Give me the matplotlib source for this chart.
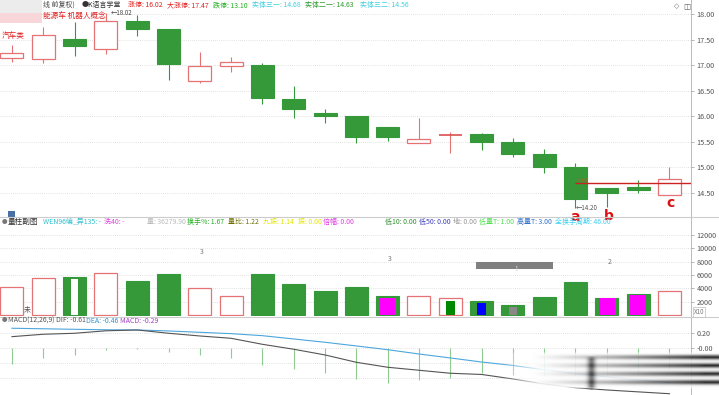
import numpy as np
import matplotlib
matplotlib.use('Agg')
import matplotlib.pyplot as plt
from matplotlib.patches import Rectangle

plt.rcParams['font.family'] = ['Noto Sans CJK SC', 'DejaVu Sans']

# ---- data ----
opens  = [17.13, 17.12, 17.51, 17.32, 17.87, 17.71, 16.68, 16.99, 17.00, 16.34, 16.06,
          16.00, 15.79, 15.47, 15.64, 15.66, 15.49, 15.26, 15.00, 14.59, 14.62, 14.45]
closes = [17.23, 17.58, 17.37, 17.87, 17.71, 17.02, 16.98, 17.06, 16.36, 16.14, 16.00,
          15.59, 15.59, 15.56, 15.64, 15.49, 15.26, 15.00, 14.38, 14.50, 14.55, 14.78]
highs  = [17.39, 17.75, 17.85, 18.02, 17.99, 17.71, 17.25, 17.15, 17.05, 16.59, 16.15,
          16.00, 15.79, 15.97, 15.70, 15.68, 15.57, 15.36, 15.08, 14.59, 14.76, 15.01]
lows   = [17.06, 17.04, 17.18, 17.21, 17.56, 16.71, 16.65, 16.86, 16.23, 15.97, 15.86,
          15.47, 15.51, 15.47, 15.28, 15.34, 15.21, 14.89, 14.20, 14.22, 14.49, 14.45]

volumes = [4150, 5500, 5750, 6250, 5100, 6150, 4000, 2900, 6100, 4650, 3550,
           4250, 2850, 2900, 2500, 2100, 1500, 2650, 5000, 2600, 3150, 3600]
# coloured marks drawn inside some volume bars
inner_vol  = [0, 0, 5400, 0, 0, 0, 0, 0, 0, 0, 0,
              0, 2600, 0, 2150, 1750, 1250, 0, 0, 2500, 3000, 0]
inner_kind = ['', '', 'white', '', '', '', '', '', '', '', '',
              '', 'magenta', '', 'green', 'blue', 'gray', '', '', 'magenta', 'magenta', '']

dif  = [0.151, 0.183, 0.196, 0.229, 0.240, 0.196, 0.160, 0.129, 0.049, -0.017, -0.093,
        -0.191, -0.257, -0.297, -0.337, -0.353, -0.413, -0.480, -0.530, -0.560, -0.585, -0.610]
dea  = [0.263, 0.256, 0.249, 0.243, 0.240, 0.227, 0.209, 0.191, 0.164, 0.120, 0.076,
        0.027, -0.023, -0.080, -0.133, -0.187, -0.233, -0.290, -0.340, -0.385, -0.425, -0.460]
hist = [-0.22, -0.14, -0.10, -0.03, -0.01, -0.06, -0.10, -0.13, -0.23, -0.28, -0.34,
        -0.42, -0.47, -0.43, -0.40, -0.33, -0.36, -0.38, -0.38, -0.35, -0.32, -0.29]

price_ticks = [14.5, 15.0, 15.5, 16.0, 16.5, 17.0, 17.5, 18.0]
vol_ticks = [2000, 4000, 6000, 8000, 10000, 12000]
macd_ticks = [0.20, 0.0]
macd_tick_labels = ['0.20', '-0.00']

RED = '#e57373'
GREEN = '#35993a'
GRID = '#d8d8d8'
inner_style = {'white': ('white', 0.24), 'magenta': ('#ff00ff', 0.50), 'green': ('#008800', 0.29),
               'blue': ('#0000ff', 0.27), 'gray': ('#888888', 0.26)}

W, H = 719, 395
fig = plt.figure(figsize=(W / 100, H / 100), dpi=100)


def px_axes(x0, y0, x1, y1):
    return fig.add_axes([x0 / W, 1 - y1 / H, (x1 - x0) / W, (y1 - y0) / H])


def ftext(x, y, s, color, size=5, **kw):
    fig.text(x / W, 1 - y / H, s, color=color, fontsize=size, va='center', ha='left', **kw)


def style_axes(ax, ticks, labels, ylim):
    ax.set_xlim(-0.383, 21.69)
    ax.set_ylim(*ylim)
    ax.set_xticks([])
    ax.yaxis.tick_right()
    ax.set_yticks(ticks)
    ax.set_yticklabels(labels)
    ax.tick_params(axis='y', length=2, width=0.5, color='#999999', labelsize=5.2,
                   labelcolor='#555555', pad=2)
    for s in ['top', 'left', 'bottom']:
        ax.spines[s].set_visible(False)
    ax.spines['right'].set_color('#bbbbbb')
    ax.spines['right'].set_linewidth(0.7)
    ax.patch.set_alpha(0)


x = np.arange(len(opens))
bw = 0.735

# ---- price panel ----
ax_p = px_axes(0, 0, 691, 216)
style_axes(ax_p, price_ticks, [f'{v:.2f}' for v in price_ticks], (14.047, 18.274))
for v in price_ticks:
    ax_p.axhline(v, color=GRID, lw=0.6, ls=(0, (1, 1.5)), zorder=0)

for i in x:
    o, c, h, l = opens[i], closes[i], highs[i], lows[i]
    top, bot = max(o, c), min(o, c)
    if c >= o:
        ax_p.vlines(i, top, h, color=RED, lw=0.8)
        ax_p.vlines(i, l, bot, color=RED, lw=0.8)
        if top - bot < 0.005:
            ax_p.hlines(top, i - bw / 2, i + bw / 2, color='#d84040', lw=1.1)
        else:
            ax_p.add_patch(Rectangle((i - bw / 2, bot), bw, top - bot, facecolor='white',
                                     edgecolor=RED, lw=0.9, zorder=3))
    else:
        ax_p.vlines(i, l, h, color=GREEN, lw=0.8)
        ax_p.add_patch(Rectangle((i - bw / 2, bot), bw, top - bot, facecolor=GREEN,
                                 edgecolor=GREEN, lw=0.8, zorder=3))

ax_p.text(3.15, 18.02, '←18.02', color='#444444', fontsize=4.5, va='center')
ax_p.text(18.02, 14.21, '←14.20', color='#555555', fontsize=4.5, va='center')
ax_p.hlines(14.70, 18, 21.69, color='#cc2222', lw=1.0, zorder=4)
ax_p.text(18.0, 14.745, '14.69', color='#d05020', fontsize=3.6, va='center')
ax_p.text(18.0, 13.955, 'a', color='#dd1111', fontsize=10, fontweight='bold',
          family='DejaVu Sans', ha='center', va='baseline')
ax_p.text(19.07, 13.975, 'b', color='#dd1111', fontsize=10, fontweight='bold',
          family='DejaVu Sans', ha='center', va='baseline')
ax_p.text(21.05, 14.223, 'c', color='#dd1111', fontsize=10, fontweight='bold',
          family='DejaVu Sans', ha='center', va='baseline')

# ---- volume panel ----
ax_v = px_axes(0, 217, 691, 316)
style_axes(ax_v, vol_ticks, [str(v) for v in vol_ticks], (-150, 14700))
for v in vol_ticks:
    ax_v.axhline(v, color=GRID, lw=0.6, ls=(0, (1, 1.5)), zorder=0)
for i in x:
    if closes[i] >= opens[i]:
        ax_v.bar(i, volumes[i], width=bw, facecolor='white', edgecolor=RED, lw=0.9)
    else:
        ax_v.bar(i, volumes[i], width=bw, facecolor=GREEN, edgecolor=GREEN, lw=0.8)
    if inner_kind[i]:
        col, wd = inner_style[inner_kind[i]]
        ax_v.bar(i, inner_vol[i], width=wd, color=col, lw=0, zorder=3)

ax_v.text(6.07, 9450, '3', color='#777777', fontsize=5, ha='center', va='center')
ax_v.text(12.08, 8400, '3', color='#777777', fontsize=5, ha='center', va='center')
ax_v.text(19.1, 7950, '2', color='#777777', fontsize=5, ha='center', va='center')
ax_v.add_patch(Rectangle((14.82, 6900), 2.46, 1050, color='#808080', lw=0))
ax_v.text(16.1, 6950, '1', color='#dddddd', fontsize=4.5, ha='center', va='center')
ax_v.text(0.48, 750, '未', color='#555555', fontsize=5, ha='center', va='center')

# ---- MACD panel ----
ax_m = px_axes(0, 317, 691, 395)
style_axes(ax_m, macd_ticks, macd_tick_labels, (-0.627, 0.413))
for v in [0.2, 0.0, -0.2, -0.4]:
    ax_m.axhline(v, color=GRID, lw=0.6, ls=(0, (1, 1.5)), zorder=0)
ax_m.vlines(x, 0, hist, color='#8fcc8f', lw=0.8)
ax_m.plot(x, dea, color='#4da6dc', lw=0.8)
ax_m.plot(x, dif, color='#555555', lw=0.8)

# ---- panel separators ----
for yy in [216.5, 316.5]:
    fig.add_artist(plt.Line2D([0, 1], [1 - yy / H] * 2, color='#cccccc', lw=0.8))

# ---- blurred overlay at bottom right ----
ax_w = px_axes(495, 350, 719, 394)
gx = np.arange(224)[None, :] + 495.0
gy = np.arange(44)[:, None] + 350.0
white_a = np.clip((gx - 500) / 40, 0, 1) * np.clip((388.5 - gy) / 2, 0, 1) * np.clip((gy - 351) / 3, 0, 1)
ramp = np.clip((gx - 530) / 175, 0, 1) ** 1.2
bands = sum(np.exp(-((gy - yc) / 2.4) ** 2) for yc in [356.7, 365.0, 373.3, 381.7])
dark = np.clip(bands * ramp * 0.95 * (gy < 388), 0, 1)
smudge = np.exp(-((gx - 591) / 4.0) ** 2) * np.clip((gy - 355) / 4, 0, 1) * (gy < 390) * 0.6
dark = np.clip(dark + smudge, 0, 1)
img = np.zeros((44, 224, 4))
img[..., :3] = (1 - dark * 0.9)[..., None]
img[..., 3] = np.maximum(white_a * 0.9, dark)
ax_w.imshow(img, extent=(0, 1, 0, 1), aspect='auto', interpolation='bilinear')
ax_w.axis('off')

# ---- header texts ----
fig.add_artist(Rectangle((0, 1 - 13 / H), 42 / W, 13 / H, transform=fig.transFigure,
                         color='#ececec', lw=0))
fig.add_artist(Rectangle((0, 1 - 23 / H), 42 / W, 10 / H, transform=fig.transFigure,
                         color='#f9d6da', lw=0))
ftext(43, 5, '线 前复权)', '#444444')
ftext(82, 5, '●K语言学堂', '#333333')
ftext(128, 5, '涨停: 16.02', '#e02020')
ftext(167, 5, '大涨停: 17.47', '#e02020')
ftext(213, 5, '跌停: 13.10', '#22b022')
ftext(252, 5, '实体三一: 14.68', '#40d0e0')
ftext(305, 5, '实体二一: 14.63', '#2f9a2f')
ftext(360, 5, '实体三二: 14.56', '#40d0e0')
ftext(43, 16, '能源车 机器人概念', '#e02020', size=5.5)
ftext(2, 36, '汽车类', '#e02020', size=5.5)
ftext(674, 6, '◇', '#666666', size=5, family='DejaVu Sans')
ftext(683, 6, '◫', '#666666', size=5.5, family='DejaVu Sans')
fig.add_artist(Rectangle((8 / W, 1 - 217 / H), 7 / W, 6 / H, transform=fig.transFigure,
                         color='#4a6fa5', lw=0))

ftext(2, 222, '●', '#777777', size=4)
ftext(8, 222, '量柱副图', '#333333', size=5.5)
ftext(43, 222, 'WEN96编_异135: -', '#30c0d0')
ftext(104, 222, '洗40: -', '#e040e0')
ftext(147, 222, '量: 36279.90', '#bbbbbb')
ftext(187, 222, '换手%: 1.67', '#22b022')
ftext(228, 222, '量比: 1.22', '#707000')
ftext(263, 222, '九振: 1.14', '#e6e600')
ftext(298, 222, '振: 0.00', '#e6e600')
ftext(323, 222, '倍幅: 0.00', '#e040e0')
ftext(385, 222, '低10: 0.00', '#309030')
ftext(419, 222, '低50: 0.00', '#4040c0')
ftext(453, 222, '地: 0.00', '#999999')
ftext(479, 222, '低量T: 1.00', '#50e050')
ftext(517, 222, '高量T: 3.00', '#3070d0')
ftext(555, 222, '全换手周期: 46.00', '#40d0f0')
fig.text(694 / W, 1 - 312 / H, 'X10', color='#777777', fontsize=4.5, va='center', ha='left',
         bbox=dict(facecolor='white', edgecolor='#bbbbbb', lw=0.5, pad=0.6))

ftext(2, 321, '●', '#777777', size=4)
ftext(8, 321, 'MACD(12,26,9) DIF: -0.61', '#555555')
ftext(86, 321, 'DEA: -0.46', '#3090d0')
ftext(120, 321, 'MACD: -0.29', '#a040c0')

fig.savefig('out.png', dpi=100)
